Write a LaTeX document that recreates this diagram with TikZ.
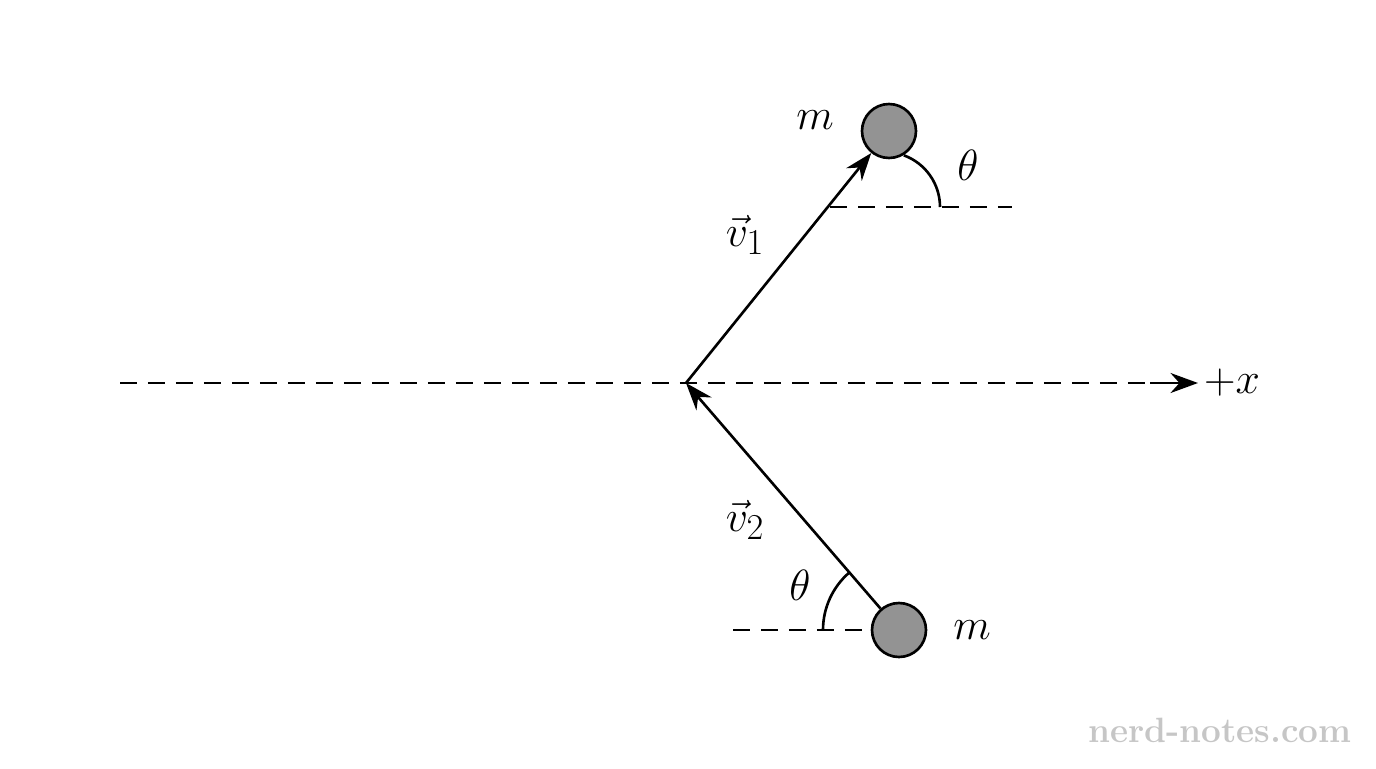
\documentclass[tikz,border=0pt]{standalone}
\usetikzlibrary{arrows.meta}
\begin{document}
\begin{tikzpicture}[x=0.02cm,y=-0.02cm]
		\tikzstyle{Ball} = [circle, minimum size=1.08cm, inner sep=0pt, draw=black, line width=1.5pt, fill=gray!85]
		\tikzstyle{Label} = [font=\fontsize{32}{38}\selectfont]
		\tikzstyle{arrow} = [line width=1.5pt,-{Stealth[length=5.5mm,width=4mm]}]
		\tikzstyle{guide} = [line width=1.5pt,dash pattern=on 3.4mm off 2.2mm]
		
		\useasboundingbox (0,0) rectangle (1376,768);
		\coordinate (O) at (686,383);
		\coordinate (xstart) at (120,383);
		\coordinate (xend) at (1198,383);
		\node (ball1) [Ball] at (889,131) {};
		\node (ball2) [Ball] at (899,630) {};
		\coordinate (top1) at (830,207);
		\coordinate (top2) at (1012,207);
		\coordinate (bot1) at (733,630);
		
		\draw [guide] (xstart) -- (1165,383);
		\draw [arrow] (1150,383) -- (xend);
		\node (xlabel) [Label, right] at (xend) {$+x$};
		\draw [guide] (top1) -- (top2);
		\draw [guide] (bot1) -- (ball2.west);
		\draw [arrow] (O) -- (ball1);
		\draw [arrow] (ball2) -- (O);
		
		% angle arcs
		\draw [line width=1.5pt] (940,207) arc[start angle=0, end angle=70, x radius=55, y radius=-55];
		\draw [line width=1.5pt] (ball2.center) ++(130.8:76 and -76) arc[start angle=130.8, end angle=180, x radius=76, y radius=-76];
		
		\node (m1) [Label] at (815,120) {$m$};
		\node (m2) [Label] at (972,630) {$m$};
		\node (th1) [Label] at (968,165) {$\theta$};
		\node (th2) [Label] at (800,585) {$\theta$};
		\node (v1) [Label] at (745,235) {$\vec{v}_1$};
		\node (v2) [Label] at (745,520) {$\vec{v}_2$};
		\node (mark) [font=\fontsize{20}{24}\selectfont\bfseries, text=gray!45] at (1220,730) {nerd-notes.com};
		\end{tikzpicture}
\end{document}
